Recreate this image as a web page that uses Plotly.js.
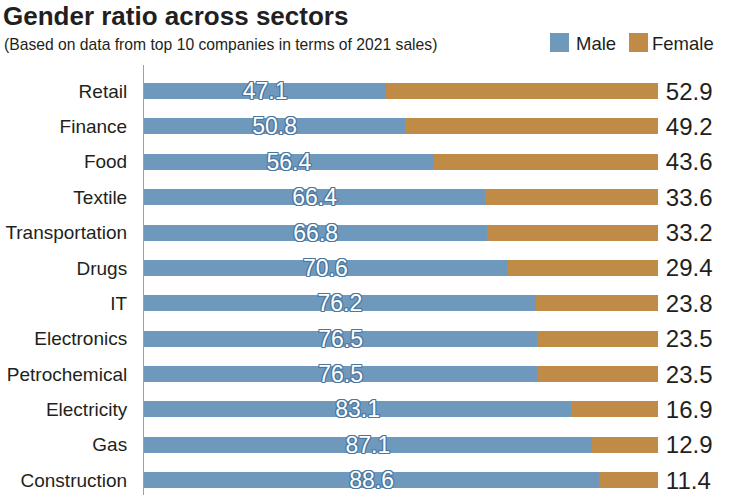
<!DOCTYPE html>
<html>
<head>
<meta charset="utf-8">
<script src="https://cdn.plot.ly/plotly-3.0.1.min.js"></script>
<style>html,body{margin:0;padding:0;background:#fff;}#chart{width:750px;height:495px;}</style>
</head>
<body>
<div id="chart"></div>
<script>
const sectors = ["Retail","Finance","Food","Textile","Transportation","Drugs","IT","Electronics","Petrochemical","Electricity","Gas","Construction"];
const male = [47.1,50.8,56.4,66.4,66.8,70.6,76.2,76.5,76.5,83.1,87.1,88.6];
const female = [52.9,49.2,43.6,33.6,33.2,29.4,23.8,23.5,23.5,16.9,12.9,11.4];
const seriesNames = ["Male","Female"];
const titleText = "Gender ratio across sectors";
const subtitleText = "(Based on data from top 10 companies in terms of 2021 sales)";

const MALE_COLOR = "#6f98bd";
const FEMALE_COLOR = "#c08b46";
const TEXT_COLOR = "#231f20";
const FONT = "Liberation Sans, Arial, sans-serif";

const W = 750, H = 495;
const M = {l:144, r:92, t:65, b:0};
const pw = W - M.l - M.r, ph = H - M.t - M.b;
const px = x => (x - M.l) / pw;
const py = y => (H - M.b - y) / ph;

const outline = "#4a77a0";
const traces = [
  {
    type: "bar", orientation: "h", name: seriesNames[0],
    y: sectors, x: male,
    marker: {color: MALE_COLOR, line: {width: 0}},
    text: male.map(v => v.toFixed(1)),
    textposition: "inside", insidetextanchor: "middle",
    constraintext: "none",
    textfont: {family: FONT, size: 23, color: "#ffffff",
      shadow: `1px 1px 0 ${outline}, -1px -1px 0 ${outline}, 1px -1px 0 ${outline}, -1px 1px 0 ${outline}, 0 1px 0 ${outline}, 0 -1px 0 ${outline}, 1px 0 0 ${outline}, -1px 0 0 ${outline}`},
    hoverinfo: "x+y+name"
  },
  {
    type: "bar", orientation: "h", name: seriesNames[1],
    y: sectors, x: female,
    marker: {color: FEMALE_COLOR, line: {width: 0}},
    text: female.map(v => "\u2009" + v.toFixed(1)),
    textposition: "outside", constraintext: "none", cliponaxis: false,
    textfont: {family: FONT, size: 24, color: TEXT_COLOR},
    hoverinfo: "x+y+name"
  }
];

const layout = {
  width: W, height: H,
  margin: M,
  paper_bgcolor: "#ffffff", plot_bgcolor: "#ffffff",
  barmode: "stack", bargap: 0.548,
  showlegend: false,
  font: {family: FONT, color: TEXT_COLOR},
  title: {
    text: "<b>" + titleText + "</b>",
    font: {family: FONT, size: 26, color: TEXT_COLOR},
    xref: "container", yref: "container",
    x: 3 / W, xanchor: "left",
    y: 1 - 16 / H, yanchor: "middle"
  },
  xaxis: {
    range: [0, 100], showgrid: false, zeroline: false,
    showticklabels: false, ticks: "", showline: false, fixedrange: true
  },
  yaxis: {
    type: "category", categoryorder: "array", categoryarray: sectors,
    range: [11.42, -0.735],
    showgrid: false, zeroline: false, ticks: "",
    showline: true, linecolor: "#a0a0a0", linewidth: 1,
    ticklabelstandoff: 12,
    tickfont: {family: FONT, size: 19, color: TEXT_COLOR},
    fixedrange: true
  },
  shapes: [
    {type: "rect", xref: "paper", yref: "paper",
     x0: px(550), x1: px(569), y0: py(52), y1: py(33),
     fillcolor: MALE_COLOR, line: {width: 0}},
    {type: "rect", xref: "paper", yref: "paper",
     x0: px(629), x1: px(648), y0: py(52), y1: py(33),
     fillcolor: FEMALE_COLOR, line: {width: 0}}
  ],
  annotations: [
    {text: subtitleText, xref: "paper", yref: "paper",
     x: px(2), y: py(45), xanchor: "left", yanchor: "middle",
     showarrow: false, font: {family: FONT, size: 15.7, color: TEXT_COLOR}},
    {text: seriesNames[0], xref: "paper", yref: "paper",
     x: px(574), y: py(43), xanchor: "left", yanchor: "middle",
     showarrow: false, font: {family: FONT, size: 18.5, color: TEXT_COLOR}},
    {text: seriesNames[1], xref: "paper", yref: "paper",
     x: px(650), y: py(43), xanchor: "left", yanchor: "middle",
     showarrow: false, font: {family: FONT, size: 18.5, color: TEXT_COLOR}}
  ]
};

Plotly.newPlot("chart", traces, layout, {displayModeBar: false});
</script>
</body>
</html>
